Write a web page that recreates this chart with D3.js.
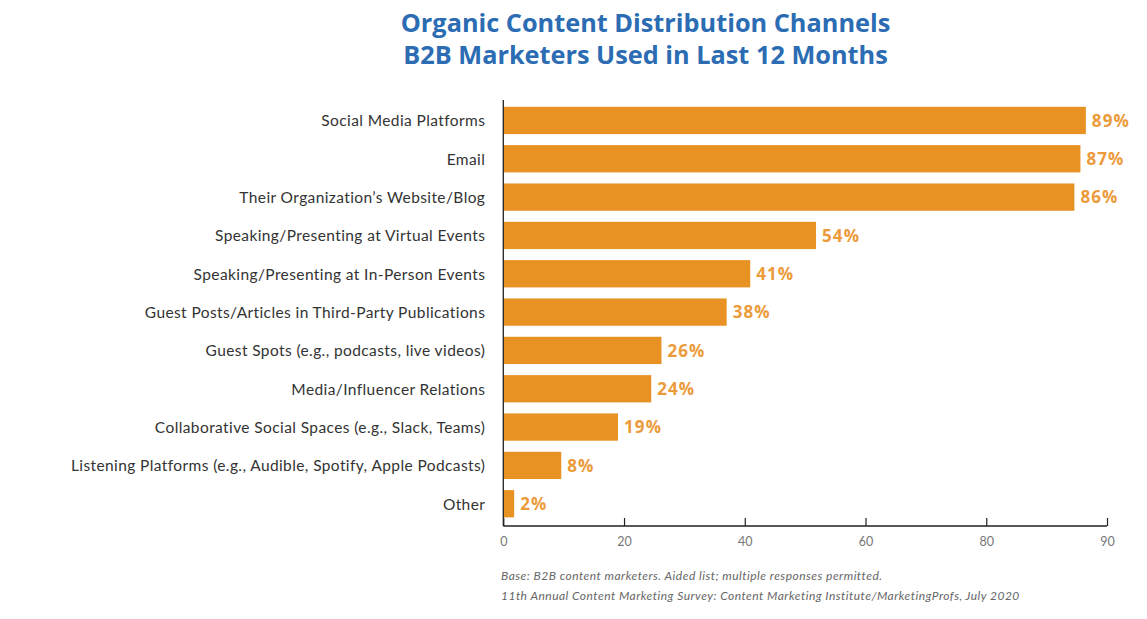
<!DOCTYPE html>
<html>
<head>
<meta charset="utf-8">
<script src="https://cdn.jsdelivr.net/npm/d3@7"></script>
<style>
  html, body { margin: 0; padding: 0; background: #fff; }
  svg { display: block; }
</style>
</head>
<body>
<svg id="chart" width="1147" height="619"></svg>
<script>
// ---- data ----
const categories = [
  "Social Media Platforms",
  "Email",
  "Their Organization’s Website/Blog",
  "Speaking/Presenting at Virtual Events",
  "Speaking/Presenting at In-Person Events",
  "Guest Posts/Articles in Third-Party Publications",
  "Guest Spots (e.g., podcasts, live videos)",
  "Media/Influencer Relations",
  "Collaborative Social Spaces (e.g., Slack, Teams)",
  "Listening Platforms (e.g., Audible, Spotify, Apple Podcasts)",
  "Other"
];
// bar lengths as drawn against the axis in the picture
const barValues = [96.5, 95.6, 94.6, 51.8, 40.9, 37.0, 26.2, 24.5, 19.0, 9.6, 1.8];
// printed value labels
const valueLabels = ["89%", "87%", "86%", "54%", "41%", "38%", "26%", "24%", "19%", "8%", "2%"];
const tickValues = [0, 20, 40, 60, 80, 100];
const tickLabels = ["0", "20", "40", "60", "80", "90"];
const titleLines = ["Organic Content Distribution Channels", "B2B Marketers Used in Last 12 Months"];
const notes = [
  "Base: B2B content marketers. Aided list; multiple responses permitted.",
  "11th Annual Content Marketing Survey: Content Marketing Institute/MarketingProfs, July 2020"
];

// ---- drawing ----
const svg = d3.select("#chart");
const x0 = 503.3, x1 = 1107;
const axisY = 526;
const x = d3.scaleLinear().domain([0, 100]).range([x0, x1]);
const y = d3.scaleBand().domain(categories).range([101.28, 101.28 + 11 * 38.33])
  .paddingInner(0.288).paddingOuter(0.144);

const barColor = "#E89224";
const labelColor = "#EC9B3B";

// title
svg.append("g").selectAll("text").data(titleLines).join("text")
  .attr("x", 645.5).attr("y", (d, i) => 32 + i * 31.5)
  .attr("text-anchor", "middle")
  .attr("font-family", "'Open Sans', 'Noto Sans', sans-serif")
  .attr("font-weight", 700).attr("font-size", 25.3)
  .attr("fill", "#2B6CB3")
  .text(d => d);

// bars
svg.append("g").selectAll("rect").data(barValues).join("rect")
  .attr("x", x(0))
  .attr("y", (d, i) => y(categories[i]))
  .attr("width", d => x(d) - x(0))
  .attr("height", y.bandwidth())
  .attr("fill", barColor);

// value labels
svg.append("g").selectAll("text").data(barValues).join("text")
  .attr("x", d => x(d) + 6)
  .attr("y", (d, i) => y(categories[i]) + y.bandwidth() / 2)
  .attr("dy", "0.36em")
  .attr("font-family", "'Open Sans', 'Noto Sans', sans-serif")
  .attr("font-weight", 700).attr("font-size", 17)
  .attr("letter-spacing", "1.1px")
  .attr("fill", labelColor)
  .text((d, i) => valueLabels[i]);

// category labels (left axis)
const yAxis = d3.axisLeft(y).tickSize(0).tickPadding(18);
const gy = svg.append("g").attr("transform", `translate(${x0},0)`).call(yAxis);
gy.select(".domain").attr("stroke", "#222").attr("stroke-width", 1.3)
  .attr("d", `M0,100V${axisY}`);
gy.selectAll("text")
  .attr("font-family", "Lato, 'Noto Sans', sans-serif")
  .attr("font-size", 15.5).attr("letter-spacing", "0.4px")
  .attr("dy", "0.38em")
  .attr("fill", "#333");

// bottom axis
const xAxis = d3.axisBottom(x).tickValues(tickValues)
  .tickFormat((d, i) => tickLabels[i]).tickSize(-8).tickPadding(11);
const gx = svg.append("g").attr("transform", `translate(0,${axisY})`).call(xAxis);
gx.select(".domain").attr("stroke", "#222").attr("stroke-width", 1.3)
  .attr("d", `M${x0},0H${x1}`);
gx.selectAll(".tick line").attr("stroke", "#222").attr("stroke-width", 1.2);
gx.selectAll("text")
  .attr("font-family", "Lato, 'Noto Sans', sans-serif")
  .attr("font-size", 12.5).attr("fill", "#777");

// notes
svg.append("g").selectAll("text").data(notes).join("text")
  .attr("x", 501).attr("y", (d, i) => 580 + i * 20)
  .attr("font-family", "Lato, 'Noto Sans', sans-serif")
  .attr("font-style", "italic").attr("font-size", 12)
  .attr("letter-spacing", "0.48px")
  .attr("fill", "#666")
  .text(d => d);
</script>
</body>
</html>
